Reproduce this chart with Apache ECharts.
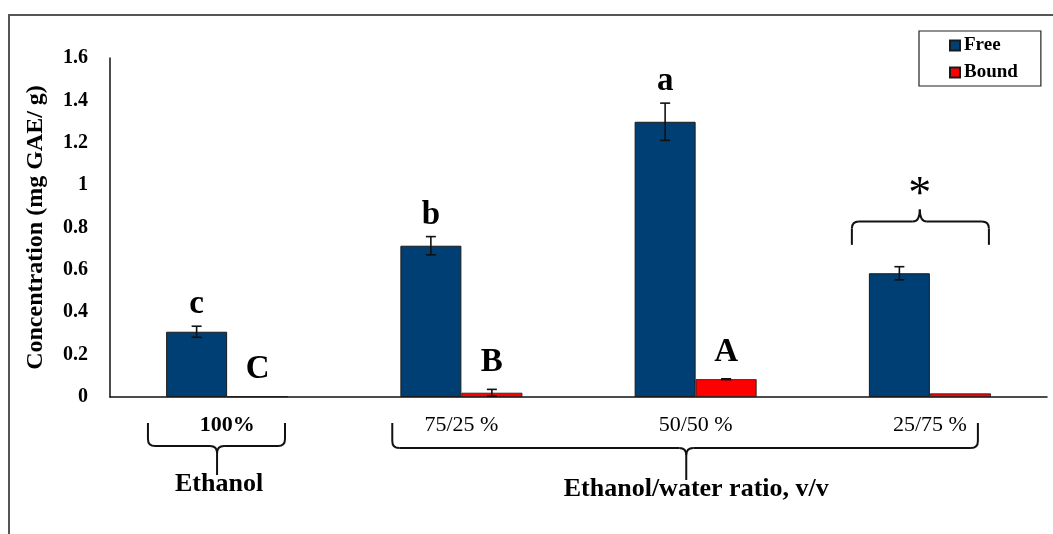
<!DOCTYPE html>
<html>
<head>
<meta charset="utf-8">
<script src="https://cdn.jsdelivr.net/npm/echarts@6/dist/echarts.min.js"></script>
<style>html,body{margin:0;padding:0;background:#fff}#c{width:1053px;height:534px}</style>
</head>
<body>
<div id="c"></div>
<script>
const categories = ['100%', '75/25 %', '50/50 %', '25/75 %'];
const freeValues = [0.308, 0.714, 1.299, 0.584];
const freeErrors = [0.026, 0.043, 0.088, 0.031];
const boundValues = [0.003, 0.02, 0.084, 0.017];
const boundErrors = [0, 0.016, 0.002, 0];
const freeLetters = ['c', 'b', 'a', ''];
const boundLetters = ['C', 'B', 'A', ''];
const yTicks = [0, 0.2, 0.4, 0.6, 0.8, 1, 1.2, 1.4, 1.6];

const FONT = "'Liberation Serif', 'Times New Roman', serif";
const BAR_W = 61;
const chart = echarts.init(document.getElementById('c'));

function errSeries(values, errors, letters, sign, gap) {
  return {
    type: 'custom',
    silent: true,
    z: 5,
    data: categories.map((c, i) => [i, values[i], errors[i]]),
    renderItem: function (params, api) {
      const i = api.value(0), v = api.value(1), e = api.value(2);
      const base = api.coord([i, v]);
      const x = base[0] + sign * BAR_W / 2;
      const top = api.coord([i, v + e])[1];
      const bot = api.coord([i, v - e])[1];
      const children = [];
      const st = { stroke: '#111', lineWidth: 1.6 };
      if (e > 0) {
        children.push({ type: 'line', shape: { x1: x, y1: top, x2: x, y2: bot }, style: st });
        children.push({ type: 'line', shape: { x1: x - 5, y1: top, x2: x + 5, y2: top }, style: st });
        children.push({ type: 'line', shape: { x1: x - 5, y1: bot, x2: x + 5, y2: bot }, style: st });
      }
      const L = letters[params.dataIndex];
      if (L) {
        children.push({ type: 'text', style: { text: L, x: x, y: top - gap, align: 'center', verticalAlign: 'bottom',
          font: 'bold 33px ' + FONT, fill: '#000' } });
      }
      return { type: 'group', children: children };
    }
  };
}

chart.setOption({
  animation: false,
  grid: { left: 110, right: 6, top: 58, bottom: 137, containLabel: false },
  legend: {
    orient: 'vertical', left: 919, top: 31,
    padding: [5, 23, 4, 30], itemGap: 8, itemWidth: 10, itemHeight: 10,
    borderColor: '#222', borderWidth: 1.2,
    textStyle: { fontFamily: FONT, fontWeight: 'bold', fontSize: 19, color: '#000', padding: [0, 0, 0, -1] },
    data: [{ name: 'Free', icon: 'rect' }, { name: 'Bound', icon: 'rect' }]
  },
  xAxis: {
    type: 'category', data: categories,
    axisLine: { lineStyle: { color: '#111', width: 1.5 } },
    axisTick: { show: false },
    axisLabel: {
      margin: 17, fontFamily: FONT, fontSize: 22, color: '#000',
      formatter: function (v, idx) { return idx === 0 ? '{b|' + v + '}' : '{n|' + v + '}'; },
      rich: { b: { fontFamily: FONT, fontSize: 22, fontWeight: 'bold', color: '#000' },
              n: { fontFamily: FONT, fontSize: 22, fontWeight: 'normal', color: '#000' } }
    }
  },
  yAxis: {
    type: 'value', min: 0, max: 1.6, interval: 0.2,
    name: 'Concentration (mg GAE/ g)', nameLocation: 'middle', nameGap: 62,
    nameTextStyle: { fontFamily: FONT, fontWeight: 'bold', fontSize: 24, color: '#000' },
    axisLine: { show: true, lineStyle: { color: '#111', width: 1.5 } },
    axisTick: { show: false },
    splitLine: { show: false },
    axisLabel: { margin: 22, fontFamily: FONT, fontWeight: 'bold', fontSize: 20, color: '#000',
      formatter: function (v) { const t = yTicks.find(k => Math.abs(k - v) < 1e-9); return String(t !== undefined ? t : v); } }
  },
  series: [
    { name: 'Free', type: 'bar', data: freeValues, barWidth: BAR_W, barGap: '0%',
      itemStyle: { color: '#003f73', borderColor: '#1a1a1a', borderWidth: 1 } },
    { name: 'Bound', type: 'bar', data: boundValues, barWidth: BAR_W, barGap: '0%',
      itemStyle: { color: '#ff0000', borderColor: '#1a1a1a', borderWidth: 0.8 } },
    errSeries(freeValues, freeErrors, freeLetters, -1, 5),
    errSeries(boundValues, boundErrors, boundLetters, 1, 10)
  ]
});

// decorations (braces, group titles, frame) placed from the axis positions
const cx = categories.map(c => chart.convertToPixel({ xAxisIndex: 0 }, c));
const yAt = v => chart.convertToPixel({ yAxisIndex: 0 }, v);
const band = cx[1] - cx[0];
const r = 7;
const bStyle = { stroke: '#111', lineWidth: 2, fill: null };
function ln(x1, y1, x2, y2) { return { type: 'line', shape: { x1, y1, x2, y2 }, style: bStyle, silent: true }; }
function qc(x1, y1, cpx1, cpy1, x2, y2) { return { type: 'bezierCurve', shape: { x1, y1, cpx1, cpy1, x2, y2 }, style: bStyle, silent: true }; }
// brace whose ends point up and stem points down (below the axis)
function braceDown(xl, xr, xc, yTop, yH, yStem) {
  return [
    ln(xl, yTop, xl, yH - r), qc(xl, yH - r, xl, yH, xl + r, yH), ln(xl + r, yH, xc - r, yH),
    qc(xc - r, yH, xc, yH, xc, yH + r), qc(xc + r, yH, xc, yH, xc, yH + r), ln(xc, yH + r, xc, yStem),
    ln(xc + r, yH, xr - r, yH), qc(xr - r, yH, xr, yH, xr, yH - r), ln(xr, yH - r, xr, yTop)
  ];
}
// brace whose ends point down and tip points up
function braceUp(xl, xr, xc, yEnd, yH, yTip) {
  return [
    ln(xl, yEnd, xl, yH + r), qc(xl, yH + r, xl, yH, xl + r, yH), ln(xl + r, yH, xc - r, yH),
    qc(xc - r, yH, xc, yH, xc, yTip), qc(xc + r, yH, xc, yH, xc, yTip),
    ln(xc + r, yH, xr - r, yH), qc(xr - r, yH, xr, yH, xr, yH + r), ln(xr, yH + r, xr, yEnd)
  ];
}
const y0 = yAt(0);
const e1 = { l: cx[0] - band * 0.338, r: cx[0] + band * 0.247, c: cx[0] - band * 0.043 };
const e2 = { l: cx[1] - band * 0.295, r: cx[3] + band * 0.205, c: cx[2] - band * 0.04 };
const g3 = { l: cx[3] - band * 0.333, r: cx[3] + band * 0.252, c: cx[3] - band * 0.043 };
chart.setOption({
  graphic: [].concat(
    [{ type: 'rect', shape: { x: 9, y: 15, width: 1200, height: 700 }, style: { stroke: '#555', lineWidth: 2, fill: null }, silent: true }],
    braceDown(e1.l, e1.r, e1.c, y0 + 26, y0 + 49, y0 + 78),
    braceDown(e2.l, e2.r, e2.c, y0 + 26, y0 + 51, y0 + 83),
    braceUp(g3.l, g3.r, g3.c, yAt(0.718), yAt(0.828), yAt(0.885)),
    [
      { type: 'text', style: { text: '*', x: g3.c, y: yAt(0.885) + 9, align: 'center', verticalAlign: 'bottom', font: 'normal 46px ' + FONT, fill: '#000' } },
      { type: 'text', style: { text: 'Ethanol', x: e1.c + 2, y: y0 + 100, align: 'center', verticalAlign: 'bottom', font: 'bold 26px ' + FONT, fill: '#000' } },
      { type: 'text', style: { text: 'Ethanol/water ratio, v/v', x: e2.c + 10, y: y0 + 105, align: 'center', verticalAlign: 'bottom', font: 'bold 26px ' + FONT, fill: '#000' } }
    ]
  )
});
</script>
</body>
</html>
